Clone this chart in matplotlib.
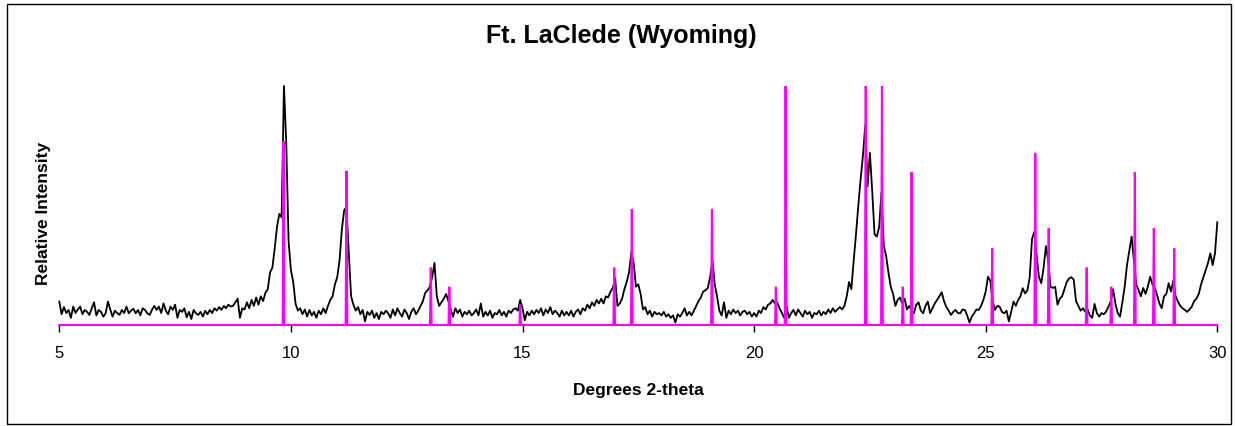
import numpy as np
import matplotlib
matplotlib.use("Agg")
import matplotlib.pyplot as plt
from matplotlib.patches import Rectangle

plt.rcParams['font.family'] = ['Liberation Sans', 'DejaVu Sans']

# ---------------- data ----------------
title = "Ft. LaClede (Wyoming)"
x_label = "Degrees 2-theta"
y_label = "Relative Intensity"
x_ticks = [5, 10, 15, 20, 25, 30]

# measured pattern on a 0.05 degree grid, 5.00 ... 30.00
two_theta = np.round(np.arange(5.0, 30.0001, 0.05), 2)
intensity = [
    # 5.00 - 5.95
    9.8, 4.5, 7.5, 5.0, 6.3, 3.0, 7.7, 5.0, 6.5, 7.7, 4.5, 6.3, 5.5, 4.2, 7.0, 9.5, 4.0, 6.3, 5.5, 3.5,
    # 6.00 - 6.95
    4.9, 9.8, 6.5, 3.5, 6.0, 5.0, 4.2, 6.3, 5.0, 7.7, 4.9, 6.0, 6.8, 4.9, 6.3, 4.0, 7.0, 6.3, 4.9, 4.2,
    # 7.00 - 7.95
    6.3, 8.0, 6.3, 7.7, 5.0, 9.0, 6.0, 4.5, 7.7, 6.3, 8.5, 3.0, 6.3, 5.5, 7.0, 3.2, 5.5, 2.5, 6.3, 4.9,
    # 8.00 - 8.95
    4.2, 5.5, 3.5, 6.0, 4.5, 6.3, 5.0, 7.0, 6.0, 7.5, 6.3, 8.0, 7.0, 8.5, 7.7, 8.0, 9.5, 11.0, 3.0, 7.0,
    # 9.00 - 9.95
    6.5, 9.5, 7.0, 10.5, 8.0, 11.5, 8.5, 12.0, 10.0, 13.5, 15.0, 22.0, 24.0, 32.0, 41.0, 46.5, 45.0, 100.0, 76.0, 35.0,
    # 10.00 - 10.95
    23.0, 18.0, 9.0, 6.0, 7.0, 4.5, 6.5, 3.5, 6.3, 4.0, 5.5, 3.0, 6.0, 4.5, 7.0, 5.0, 8.0, 10.5, 12.0, 17.0,
    # 11.00 - 11.95
    20.0, 27.0, 40.0, 48.0, 49.5, 30.0, 12.0, 8.5, 6.0, 7.5, 4.5, 6.3, 1.5, 5.5, 4.2, 6.0, 3.0, 5.0, 2.5, 5.5,
    # 12.00 - 12.95
    4.5, 6.0, 4.9, 3.0, 6.5, 4.0, 7.0, 5.0, 3.5, 6.5, 5.0, 2.5, 5.5, 7.0, 4.5, 6.0, 8.0, 10.0, 13.5, 14.5,
    # 13.00 - 13.95
    16.0, 20.0, 26.0, 12.0, 8.0, 9.5, 11.0, 13.0, 10.0, 6.5, 3.5, 7.0, 5.0, 6.5, 3.5, 5.5, 4.5, 6.0, 4.0, 5.0,
    # 14.00 - 14.95
    6.5, 4.0, 9.0, 3.5, 5.5, 4.0, 6.0, 3.0, 5.0, 4.5, 6.3, 4.0, 5.5, 3.5, 6.0, 5.0, 6.5, 7.0, 6.0, 10.5,
    # 15.00 - 15.95
    7.0, 2.0, 5.5, 4.0, 6.0, 4.5, 6.3, 5.0, 7.0, 4.0, 6.5, 5.0, 7.5, 4.5, 6.0, 5.0, 3.5, 6.0, 4.0, 5.5,
    # 16.00 - 16.95
    4.0, 6.0, 3.5, 5.5, 6.5, 4.5, 7.0, 6.0, 8.5, 7.0, 9.5, 8.0, 10.5, 9.0, 11.0, 9.0, 12.0, 11.5, 14.0, 15.5,
    # 17.00 - 17.95
    19.5, 8.0, 9.0, 11.0, 15.0, 18.0, 22.0, 30.5, 26.0, 16.0, 17.0, 13.0, 6.5, 7.5, 4.5, 6.0, 3.5, 5.5, 4.5, 5.0,
    # 18.00 - 18.95
    4.0, 5.5, 3.5, 4.5, 3.0, 4.0, 1.0, 4.5, 3.5, 5.0, 7.0, 4.0, 5.5, 4.0, 6.0, 8.0, 10.0, 11.5, 14.0, 14.5,
    # 19.00 - 19.95
    15.5, 20.0, 27.0, 17.0, 12.0, 6.0, 4.0, 9.5, 3.0, 6.0, 4.5, 6.5, 5.0, 6.0, 4.0, 5.5, 6.0, 4.5, 5.5, 3.5,
    # 20.00 - 20.95
    5.0, 3.5, 6.0, 5.0, 7.5, 6.5, 8.5, 9.0, 10.5, 9.0, 9.5, 7.0, 5.0, 3.0, 8.0, 3.0, 5.0, 6.3, 4.0, 6.5,
    # 21.00 - 21.95
    5.0, 3.5, 6.0, 4.5, 5.5, 3.0, 5.0, 4.5, 6.0, 4.0, 5.5, 4.5, 6.5, 5.0, 7.0, 5.5, 6.5, 7.5, 6.5, 8.0,
    # 22.00 - 22.95
    12.0, 18.0, 15.0, 27.0, 38.0, 50.0, 61.0, 71.0, 83.7, 58.0, 72.0, 56.0, 38.0, 37.0, 41.0, 55.5, 33.0, 29.0, 22.0, 16.0,
    # 23.00 - 23.95
    13.0, 8.0, 10.5, 11.5, 9.0, 11.0, 6.5, 8.0, 6.0, 4.9, 8.5, 9.5, 6.0, 4.9, 8.0, 9.8, 5.0, 7.0, 9.0, 10.5,
    # 24.00 - 24.95
    12.0, 13.7, 10.0, 7.5, 6.0, 4.2, 5.5, 6.3, 5.0, 4.9, 6.5, 6.3, 4.0, 1.0, 3.5, 4.9, 6.5, 6.3, 8.0, 10.5,
    # 25.00 - 25.95
    14.0, 20.2, 18.5, 10.0, 6.3, 8.0, 7.7, 5.5, 4.9, 6.0, 1.5, 5.5, 9.8, 8.0, 10.5, 12.0, 15.4, 13.2, 14.5, 20.0,
    # 26.00 - 26.95
    36.0, 39.0, 29.0, 20.0, 17.5, 24.0, 33.0, 27.0, 16.0, 15.5, 16.0, 8.5, 11.0, 12.0, 15.0, 18.0, 19.5, 20.0, 19.0, 10.0,
    # 27.00 - 27.95
    8.0, 6.0, 7.0, 5.5, 6.5, 4.0, 3.0, 8.8, 5.0, 3.5, 5.0, 4.5, 5.6, 7.7, 10.0, 15.0, 9.0, 5.0, 3.5, 9.5,
    # 28.00 - 28.95
    16.0, 25.0, 31.0, 37.0, 27.0, 17.0, 14.6, 12.0, 15.5, 13.0, 16.0, 20.2, 17.0, 15.5, 12.5, 9.0, 7.0, 12.0, 13.0, 17.5,
    # 29.00 - 29.95
    14.0, 18.6, 12.0, 9.8, 8.0, 7.0, 6.3, 5.5, 6.5, 7.7, 10.0, 11.0, 13.0, 17.0, 20.0, 23.0, 26.0, 30.0, 25.0, 30.0,
    # 30.00
    43.0,
]

# reference stick pattern
stick_pos = [9.84, 11.20, 13.02, 13.42, 14.95, 16.98, 17.36, 19.09, 20.47, 20.68,
             22.41, 22.76, 23.21, 23.40, 25.14, 26.07, 26.36, 27.18, 27.71, 28.22,
             28.63, 29.07]
stick_height = [77, 64.5, 24, 16, 8.5, 24, 48.5, 48.5, 16, 100,
                100, 100, 16, 64, 32, 72, 40.5, 24, 16, 64,
                40.5, 32]

# ---------------- figure ----------------
W, H = 1235, 426
fig = plt.figure(figsize=(W / 100, H / 100), dpi=100)

x0, x1 = 59.3, 1217.3
y0, y1 = 325.0, 86.0
ax = fig.add_axes([x0 / W, 1 - y0 / H, (x1 - x0) / W, (y0 - y1) / H])

ax.plot(two_theta, intensity, color='black', lw=1.3, zorder=2, clip_on=False)

# stick pattern as one continuous magenta line with narrow spikes
hw = 0.018
sx, sy = [5.0], [0.0]
for p, h in zip(stick_pos, stick_height):
    sx += [p - hw, p, p + hw]
    sy += [0.0, h, 0.0]
sx.append(30.0)
sy.append(0.0)
ax.plot(sx, sy, color='#FF00FF', lw=1.5, zorder=3, clip_on=False,
        solid_joinstyle='miter')

ax.set_xlim(5, 30)
ax.set_ylim(0, 100)
for s in ax.spines.values():
    s.set_visible(False)
ax.set_yticks([])
ax.set_xticks(x_ticks)
ax.set_xticklabels([str(t) for t in x_ticks], fontsize=12)
ax.tick_params(axis='x', direction='out', length=5, width=1, color='black',
               pad=10)
ax.patch.set_alpha(0)

fig.text(621 / W, 1 - 36 / H, title, ha='center', va='center',
         fontsize=18, fontweight='bold')
fig.text(638 / W, 1 - 390 / H, x_label, ha='center', va='center',
         fontsize=12.5, fontweight='bold')
fig.text(44 / W, 1 - 213 / H, y_label, ha='center', va='center',
         rotation=90, fontsize=12.5, fontweight='bold')

fig.patches.append(Rectangle((6.5 / W, 1 - 424 / H), (1230.5 - 6.5) / W,
                             (424 - 3.5) / H, transform=fig.transFigure,
                             fill=False, edgecolor='black', lw=1))

fig.savefig('out.png', dpi=100)
